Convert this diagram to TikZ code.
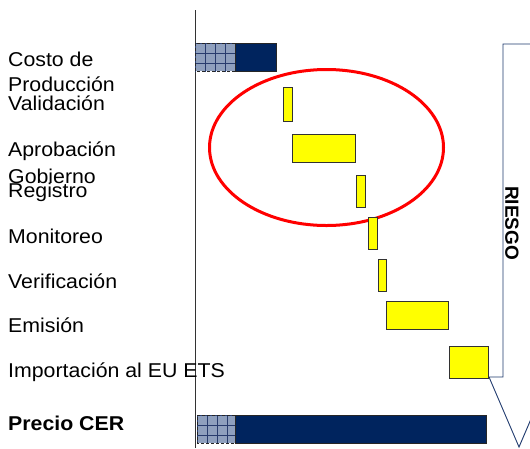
\documentclass[tikz,border=0pt]{standalone}
\usepackage{fontspec}
\setmainfont{Liberation Sans}
\definecolor{navy}{RGB}{0,36,94}
\definecolor{hatch}{RGB}{143,160,190}
\definecolor{hatchline}{RGB}{40,60,110}
\definecolor{arrowblue}{RGB}{31,58,110}
\definecolor{stepyellow}{RGB}{255,255,0}
\definecolor{edgegray}{RGB}{50,50,50}
\newcommand{\wide}[1]{\scalebox{1.065}[1]{#1}}
\begin{document}
\begin{tikzpicture}[x=1pt,y=-1pt,
  lbl/.style={anchor=base west,inner sep=0pt,font=\fontsize{20}{24}\selectfont},
  ybar/.style={fill=stepyellow,draw=edgegray,line width=1pt},
  navybar/.style={fill=navy,draw=black!85,line width=0.8pt},
  hatchbox/.style={fill=hatch},
  gridl/.style={draw=hatchline,line width=0.5pt},
  dashedge/.style={draw=black!85,dashed,dash pattern=on 3pt off 2pt,line width=1pt}]
\clip (0,0) rectangle (530,448);
\fill[white] (0,0) rectangle (530,448);
% risk arrow
\draw[arrowblue,fill=white,line width=0.9pt,line join=miter]
  (540,44) -- (503,44) -- (503,377) -- (489,377) -- (519,447) -- (549,377) -- (535,377);
\node[rotate=-90,inner sep=0pt,font=\bfseries\fontsize{19}{22}\selectfont] (riesgo) at (512,223) {RIESGO};
% axis line
\draw[black!80,line width=0.9pt] (195.5,10) -- (195.5,448);
% red ellipse
\draw[red,line width=3pt] (326.5,147.5) ellipse [x radius=117, y radius=78];
% cost bar
\fill[hatchbox] (195,43) rectangle (235,71);
\begin{scope}
\clip (195,43) rectangle (235,71);
\draw[gridl,step=10pt,shift={(5,3)}] (180,30) grid (240,80);
\end{scope}
\draw[dashedge] (235,43) -- (195,43) -- (195,71) -- (235,71);
\draw[navybar] (235,43) rectangle (276,71);
% price bar
\fill[hatchbox] (197,415) rectangle (235,443);
\begin{scope}
\clip (197,415) rectangle (235,443);
\draw[gridl,step=10pt,shift={(7,5)}] (180,400) grid (240,450);
\end{scope}
\draw[dashedge] (235,415) -- (197,415) -- (197,443) -- (235,443);
\draw[navybar] (235,415) rectangle (486,443);
% yellow step bars
\draw[ybar] (283,87) rectangle (292,121);
\draw[ybar] (292,134) rectangle (355,162);
\draw[ybar] (356,175) rectangle (365,207);
\draw[ybar] (368,217) rectangle (377,249);
\draw[ybar] (378,259) rectangle (386,291);
\draw[ybar] (386,301) rectangle (448,329);
\draw[ybar] (449,346) rectangle (488,378);
% labels
\node[lbl] (costo) at (8,66.7) {\wide{Costo de}};
\node[lbl] (produccion) at (8,91.7) {\wide{Producción}};
\node[lbl] (validacion) at (8,110.7) {\wide{Validación}};
\node[lbl] (aprobacion) at (8,156) {\wide{Aprobación}};
\node[lbl] (gobierno) at (8,183.3) {\wide{Gobierno}};
\node[lbl] (registro) at (8,197.7) {\wide{Registro}};
\node[lbl] (monitoreo) at (8,243.3) {\wide{Monitoreo}};
\node[lbl] (verificacion) at (8,288) {\wide{Verificación}};
\node[lbl] (emision) at (8,332) {\wide{Emisión}};
\node[lbl] (importacion) at (8,377) {\wide{Importación al EU ETS}};
\node[lbl,font=\bfseries\fontsize{20}{24}\selectfont] (precio) at (8,430) {\wide{Precio CER}};
\end{tikzpicture}
\end{document}
